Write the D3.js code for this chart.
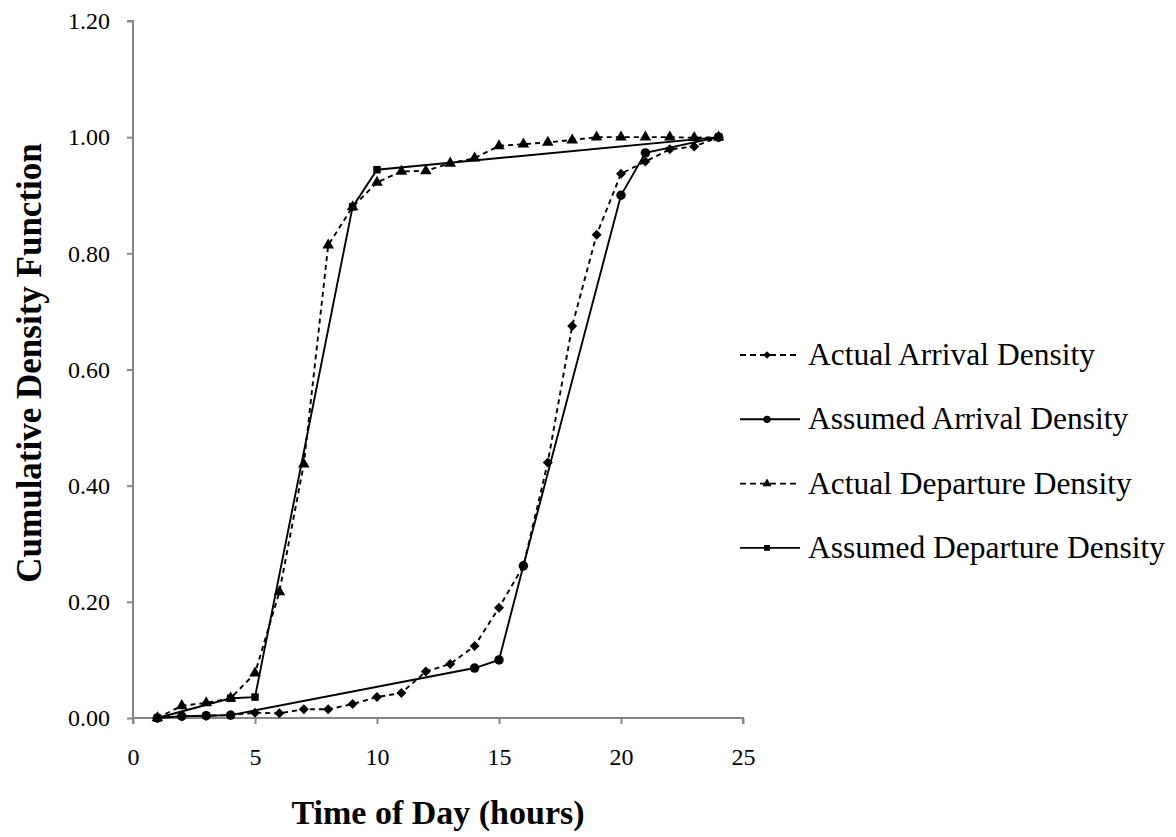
<!DOCTYPE html>
<html>
<head lang="en">
    <meta charset="UTF-8">
    <title>Cumulative Density</title>
    <script src="https://d3js.org/d3.v7.min.js"></script>
</head>
<body style="margin:0;background:#fff">
<svg id="chart" width="1176" height="837"></svg>
<style>
    text { font-family: "Liberation Serif", "Times New Roman", serif; fill:#000; }
    .axis path, .axis line { stroke:#868686; stroke-width:2; }
</style>
<script>

    // data
    const HOURS = [1,2,3,4,5,6,7,8,9,10,11,12,13,14,15,16,17,18,19,20,21,22,23,24];
    const ACTUAL_ARRIVAL = [0,0.003,0.004,0.005,0.009,0.008,0.015,0.015,0.024,0.036,0.043,0.080,
                            0.093,0.124,0.190,0.262,0.440,0.675,0.832,0.937,0.958,0.979,0.984,1.0];
    const ACTUAL_DEPARTURE = [0,0.021,0.026,0.034,0.077,0.217,0.437,0.814,0.880,0.922,0.941,0.942,
                              0.955,0.964,0.985,0.988,0.991,0.995,1.0,1.0,1.0,1.0,0.999,1.0];
    const ASSUMED_ARRIVAL_HOURS = [1,2,3,4,14,15,16,20,21,24];
    const ASSUMED_ARRIVAL = [0,0.003,0.004,0.005,0.086,0.100,0.262,0.900,0.973,1.0];
    const ASSUMED_DEPARTURE_HOURS = [1,4,5,9,10,24];
    const ASSUMED_DEPARTURE = [0,0.034,0.036,0.880,0.944,1.0];
    const X_TICKS = [0,5,10,15,20,25];
    const Y_TICKS = [0,0.2,0.4,0.6,0.8,1.0,1.2];

    let series = [
        {name:'Actual Arrival Density', xs:HOURS, ys:ACTUAL_ARRIVAL, dash:true, marker:'diamond'},
        {name:'Assumed Arrival Density', xs:ASSUMED_ARRIVAL_HOURS, ys:ASSUMED_ARRIVAL, dash:false, marker:'circle'},
        {name:'Actual Departure Density', xs:HOURS, ys:ACTUAL_DEPARTURE, dash:true, marker:'triangle'},
        {name:'Assumed Departure Density', xs:ASSUMED_DEPARTURE_HOURS, ys:ASSUMED_DEPARTURE, dash:false, marker:'square'}
    ];

    let svg = d3.select('#chart');
    let margins = {top:21, left:133};
    let width = 610, height = 697;
    const FONT = '"Liberation Serif", "Times New Roman", serif';

    let xscale = d3.scaleLinear().domain([0,25]).range([0,width]);
    let yscale = d3.scaleLinear().domain([0,1.2]).range([height,0]);

    let g = svg.append('g').attr('transform', `translate(${margins.left},${margins.top})`);

    // axes
    g.append('g')
        .attr('class','axis axis--x')
        .attr('transform', `translate(0,${height})`)
        .call(d3.axisBottom(xscale).tickValues(X_TICKS).tickSize(6).tickSizeOuter(6).tickPadding(24))
        .attr('font-family', FONT).attr('font-size', 24);

    g.append('g')
        .attr('class','axis axis--y')
        .call(d3.axisLeft(yscale).tickValues(Y_TICKS).tickFormat(d3.format('.2f')).tickSize(6).tickSizeOuter(6).tickPadding(17))
        .attr('font-family', FONT).attr('font-size', 24);

    g.selectAll('.axis--y path').attr('d', `M-6,0H0V${height}`);
    g.selectAll('.axis--x path').attr('d', `M0,6V0H${width}V6`);

    // markers
    function markerPath(type, k){
        if(type==='circle') return d3.symbol(d3.symbolCircle, 70*k)();
        if(type==='square') return d3.symbol(d3.symbolSquare, 56*k)();
        if(type==='triangle') return d3.symbol(d3.symbolTriangle, 58*k)();
        return d3.symbol(d3.symbolSquare, 50*k)();
    }
    function markerRot(type){ return type==='diamond' ? ' rotate(45)' : ''; }

    let line = d3.line().x(d=>xscale(d[0])).y(d=>yscale(d[1]));

    series.forEach(s => {
        let pts = s.xs.map((x,i)=>[x, s.ys[i]]);
        g.append('path')
            .datum(pts)
            .attr('d', line)
            .attr('fill','none')
            .attr('stroke','#000')
            .attr('stroke-width',1.9)
            .attr('stroke-dasharray', s.dash ? '5,4' : null);
        g.selectAll(null)
            .data(pts)
            .enter()
            .append('path')
            .attr('d', markerPath(s.marker,1))
            .attr('transform', d=>`translate(${xscale(d[0])},${yscale(d[1])})${markerRot(s.marker)}`)
            .attr('fill','#000');
    });

    // legend
    let legend = svg.append('g').attr('transform','translate(740,355)');
    series.forEach((s,i) => {
        let row = legend.append('g').attr('transform', `translate(0,${i*64.3})`);
        row.append('line')
            .attr('x1',0).attr('x2',60).attr('y1',0).attr('y2',0)
            .attr('stroke','#000').attr('stroke-width',1.9)
            .attr('stroke-dasharray', s.dash ? '6,4' : null);
        row.append('path')
            .attr('d', markerPath(s.marker,0.6))
            .attr('transform', `translate(27,0)${markerRot(s.marker)}`)
            .attr('fill','#000');
        row.append('text')
            .attr('x',68).attr('y',10)
            .style('font-size','31.5px')
            .text(s.name);
    });

    // axis titles
    svg.append('text')
        .attr('x', margins.left + width/2)
        .attr('y', 824)
        .attr('text-anchor','middle')
        .style('font-size','34px')
        .style('font-weight','bold')
        .text('Time of Day (hours)');

    svg.append('text')
        .attr('transform', `translate(41,${margins.top + 342}) rotate(-90)`)
        .attr('text-anchor','middle')
        .style('font-size','35px')
        .style('font-weight','bold')
        .text('Cumulative Density Function');

</script>
</body>
</html>
